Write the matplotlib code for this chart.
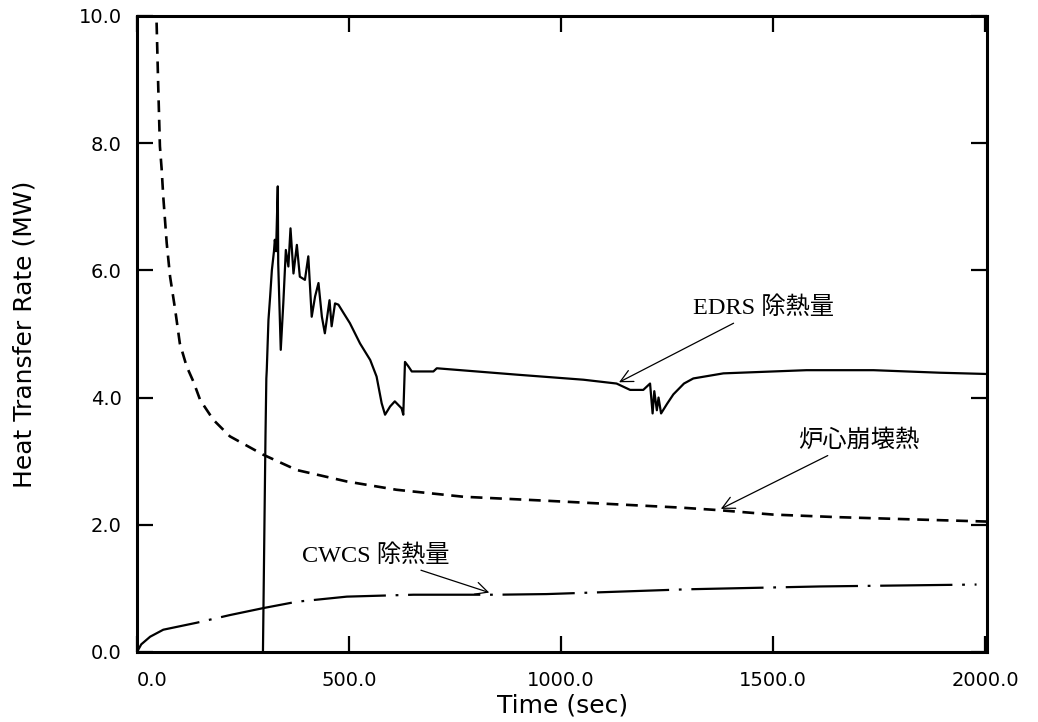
import matplotlib
matplotlib.use('Agg')
import matplotlib.pyplot as plt
from matplotlib.ticker import FormatStrFormatter

# EDRS heat removal (solid)
edrs_t = [297, 303, 305, 306, 310, 314, 318, 323, 325, 328, 332, 333, 339, 345, 351, 357,
          362, 369, 377, 384, 396, 404, 412, 420, 428, 436, 443, 454, 459, 467, 475, 487,
          502, 526, 550, 565, 577, 585, 597, 608, 624, 628, 632, 640, 648, 699, 707, 895,
          1053, 1131, 1163, 1194, 1210, 1216, 1220, 1226, 1230, 1236, 1250, 1265, 1290,
          1312, 1383, 1579, 1737, 1894, 2005]
edrs_v = [0.0, 3.4, 4.3, 4.43, 5.22, 5.59, 6.0, 6.3, 6.48, 6.3, 7.32, 6.11, 4.75, 5.48, 6.32, 6.06,
          6.66, 5.95, 6.40, 5.90, 5.85, 6.22, 5.27, 5.59, 5.80, 5.27, 5.01, 5.53, 5.12, 5.48, 5.46, 5.33,
          5.17, 4.85, 4.59, 4.33, 3.91, 3.73, 3.86, 3.94, 3.83, 3.73, 4.56, 4.49, 4.41, 4.41, 4.46, 4.36,
          4.28, 4.22, 4.12, 4.12, 4.22, 3.75, 4.10, 3.80, 4.00, 3.75, 3.90, 4.05, 4.22,
          4.30, 4.38, 4.43, 4.43, 4.39, 4.37]

# decay heat (dashed)
decay_t = [44, 46, 50, 54, 58, 62, 70, 78, 90, 101, 117, 133, 149, 180, 219, 298, 377, 495,
           612, 770, 958, 1281, 1371, 1500, 1650, 1800, 2005]
decay_v = [10.2, 9.94, 8.9, 7.95, 7.6, 7.15, 6.43, 5.90, 5.38, 4.85, 4.49, 4.25, 3.96, 3.65,
           3.39, 3.10, 2.86, 2.68, 2.55, 2.44, 2.38, 2.27, 2.23, 2.16, 2.12, 2.09, 2.05]

# CWCS heat removal (dash-dot)
cwcs_t = [0, 10, 31, 62, 141, 219, 298, 377, 495, 652, 848, 966, 1100, 1296, 1611, 1980]
cwcs_v = [0.0, 0.12, 0.24, 0.35, 0.46, 0.58, 0.69, 0.79, 0.87, 0.90, 0.90, 0.91, 0.94, 0.985,
          1.03, 1.06]

x_ticks = [0, 500, 1000, 1500, 2000]
y_ticks = [0, 2, 4, 6, 8, 10]

plt.rcParams['lines.scale_dashes'] = False
label_font = ['Liberation Serif', 'Noto Sans CJK JP']

fig = plt.figure(figsize=(10.38, 7.22), dpi=100)
ax = fig.add_axes([0.132, 0.097, 0.819, 0.881])

ax.plot(edrs_t, edrs_v, color='black', lw=1.6)
ax.plot(decay_t, decay_v, color='black', lw=1.9, dashes=(8.5, 5.5))
ax.plot(cwcs_t, cwcs_v, color='black', lw=1.6, dashes=(52, 7, 2, 7))

ax.set_xlim(0, 2005)
ax.set_ylim(0, 10)
ax.set_xticks(x_ticks)
ax.set_yticks(y_ticks)
ax.xaxis.set_major_formatter(FormatStrFormatter('%.1f'))
ax.yaxis.set_major_formatter(FormatStrFormatter('%.1f'))
ax.tick_params(direction='in', length=11.5, width=1.6, top=True, right=True, labelsize=14)
ax.tick_params(axis='x', pad=14)
ax.tick_params(axis='y', pad=11)
ax.get_xticklabels()[0].set_horizontalalignment('left')
for s in ax.spines.values():
    s.set_linewidth(2.2)

ax.set_xlabel('Time (sec)', fontsize=18, labelpad=2)
ax.set_ylabel('Heat Transfer Rate (MW)', fontsize=18, labelpad=30)

arrow = dict(arrowstyle='->', color='black', lw=0.9, mutation_scale=22)
ax.annotate('EDRS 除熱量', xy=(1131, 4.22), xytext=(1311, 5.41), fontsize=17.5,
            family=label_font, va='center', ha='left', arrowprops=arrow)
ax.annotate('炉心崩壊熱', xy=(1371, 2.23), xytext=(1559, 3.33), fontsize=17.5,
            family=label_font, va='center', ha='left', arrowprops=arrow)
ax.annotate('CWCS 除熱量', xy=(837, 0.92), xytext=(388, 1.52), fontsize=17.5,
            family=label_font, va='center', ha='left', arrowprops=arrow)

fig.savefig('out.png', dpi=100)
